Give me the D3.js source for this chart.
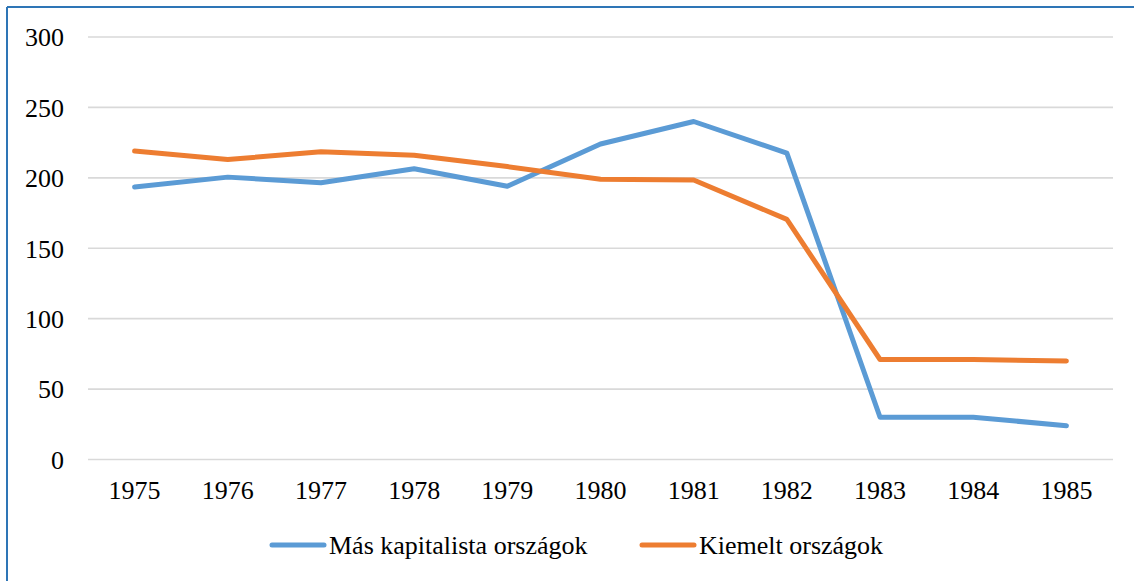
<!DOCTYPE html>
<html><head><meta charset="utf-8">
<script src="https://cdn.jsdelivr.net/npm/d3@7"></script>
<style>
@font-face { font-family: "ChartSerif"; src: local("Liberation Serif"), local("LiberationSerif"), local("Times New Roman"); }
</style>
</head><body style="margin:0;padding:0;background:#fff">
<script>
const years = ["1975","1976","1977","1978","1979","1980","1981","1982","1983","1984","1985"];
const masKapitalista = [193.5, 200.5, 196.5, 206.5, 194, 224, 240, 217.5, 30, 30, 24];
const kiemelt = [219, 213, 218.5, 216, 208, 199, 198.5, 170.5, 71, 71, 70];
const yTicks = [0, 50, 100, 150, 200, 250, 300];
const seriesNames = ["Más kapitalista országok", "Kiemelt országok"];
const seriesColors = ["#5B9BD5", "#ED7D31"];

const W = 1134, H = 581;
const FONT = '"Times New Roman", "Liberation Serif", ChartSerif, serif';
const FS = 26;
const svg = d3.select("body").append("svg").attr("width", W).attr("height", H)
  .style("display", "block").style("font-family", FONT);

function styleText(sel) {
  sel.attr("font-family", null).style("font-family", FONT)
     .style("font-size", FS + "px").attr("fill", "#000");
}

// frame
svg.append("line").attr("x1",7).attr("x2",W).attr("y1",7).attr("y2",7).attr("stroke","#2E75B6").attr("stroke-width",2);
svg.append("line").attr("x1",7).attr("x2",7).attr("y1",7).attr("y2",H).attr("stroke","#2E75B6").attr("stroke-width",2);

const x = d3.scaleBand().domain(years).range([88, 1113]);
const y = d3.scaleLinear().domain([0, 300]).range([459.5, 37]);

const g = svg.append("g");
g.selectAll("line.grid").data(yTicks).join("line")
  .attr("x1", 88).attr("x2", 1113)
  .attr("y1", d => y(d)).attr("y2", d => y(d))
  .attr("stroke", "#D9D9D9").attr("stroke-width", 1.6);

const yAxis = d3.axisLeft(y).tickValues(yTicks).tickSize(0).tickPadding(0);
const ya = svg.append("g").attr("transform", "translate(64,0)").call(yAxis);
ya.attr("font-family", null).attr("font-size", null);
ya.select(".domain").remove();
styleText(ya.selectAll("text").attr("dy", "0.34em"));

const xAxis = d3.axisBottom(x).tickSize(0).tickPadding(0);
const xa = svg.append("g").attr("transform", "translate(0,490)").call(xAxis);
xa.attr("font-family", null).attr("font-size", null);
xa.select(".domain").remove();
styleText(xa.selectAll("text").attr("dy", "0.34em"));

const line = d3.line().x((d, i) => x(years[i]) + x.bandwidth() / 2).y(d => y(d));
[masKapitalista, kiemelt].forEach((s, k) => {
  svg.append("path").datum(s).attr("d", line).attr("fill", "none")
    .attr("stroke", seriesColors[k]).attr("stroke-width", 5)
    .attr("stroke-linejoin", "round").attr("stroke-linecap", "round");
});

const legendX = [272, 642];
seriesNames.forEach((n, k) => {
  svg.append("line").attr("x1", legendX[k]).attr("x2", legendX[k] + 52)
    .attr("y1", 545).attr("y2", 545).attr("stroke", seriesColors[k])
    .attr("stroke-width", 5).attr("stroke-linecap", "round");
  styleText(svg.append("text").attr("x", legendX[k] + 57).attr("y", 545).attr("dy", "0.34em").text(n));
});
</script>
</body></html>
